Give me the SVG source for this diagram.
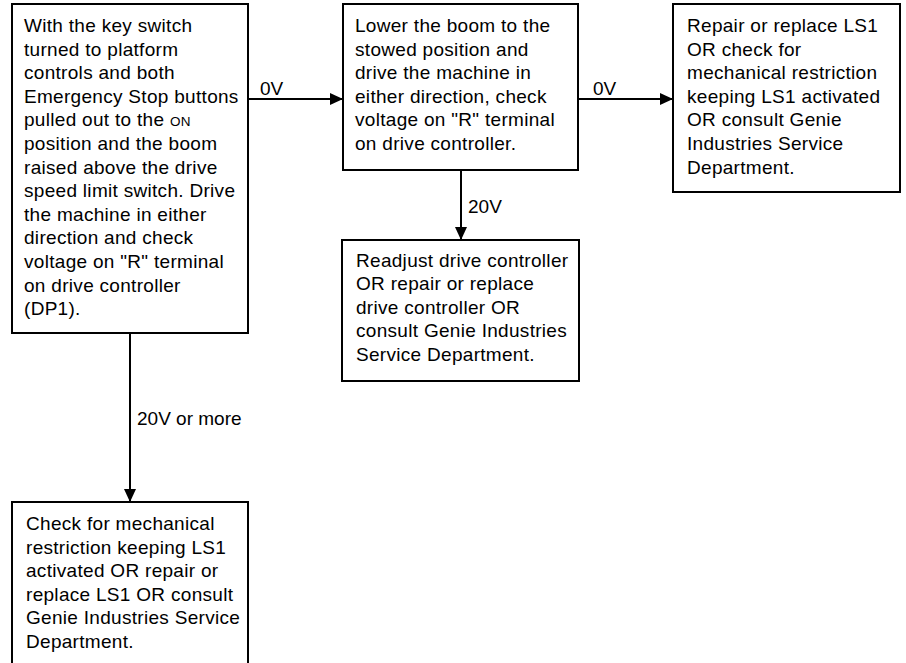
<svg xmlns="http://www.w3.org/2000/svg" width="906" height="663" viewBox="0 0 906 663">
<style>
.box{fill:#fff;stroke:#000;stroke-width:2}
.t{font-family:"Liberation Sans",Arial,sans-serif;font-size:19px;letter-spacing:0.3px;fill:#000}
.lbl{font-family:"Liberation Sans",Arial,sans-serif;font-size:19px;fill:#000}
.c{stroke:#000;stroke-width:2;fill:none}
.sc{font-size:13.5px}
</style>
<defs>
<marker id="ah" viewBox="0 0 13 12" refX="13" refY="6" markerWidth="13" markerHeight="12" markerUnits="userSpaceOnUse" orient="auto">
<path d="M0,0 L13,6 L0,12 Z" fill="#000"/>
</marker>
</defs>
<rect width="906" height="663" fill="#fff"/>
<g id="connectors">
<line class="c" x1="248" y1="99" x2="343" y2="99" marker-end="url(#ah)"/>
<line class="c" x1="578" y1="99" x2="673" y2="99" marker-end="url(#ah)"/>
<line class="c" x1="461" y1="170" x2="461" y2="240" marker-end="url(#ah)"/>
<line class="c" x1="130" y1="333" x2="130" y2="502" marker-end="url(#ah)"/>
<text class="lbl" x="260" y="95">0V</text>
<text class="lbl" x="593" y="95">0V</text>
<text class="lbl" x="468" y="213">20V</text>
<text class="lbl" x="137" y="425">20V or more</text>
</g>
<g id="n1">
<rect class="box" x="12" y="4" width="236" height="329"/>
<text class="t">
<tspan x="24" y="32">With the key switch</tspan>
<tspan x="24" dy="23.6">turned to platform</tspan>
<tspan x="24" dy="23.6">controls and both</tspan>
<tspan x="24" dy="23.6">Emergency Stop buttons</tspan>
<tspan x="24" dy="23.6">pulled out to the <tspan class="sc">ON</tspan></tspan>
<tspan x="24" dy="23.6">position and the boom</tspan>
<tspan x="24" dy="23.6">raised above the drive</tspan>
<tspan x="24" dy="23.6">speed limit switch. Drive</tspan>
<tspan x="24" dy="23.6">the machine in either</tspan>
<tspan x="24" dy="23.6">direction and check</tspan>
<tspan x="24" dy="23.6">voltage on "R" terminal</tspan>
<tspan x="24" dy="23.6">on drive controller</tspan>
<tspan x="24" dy="23.6">(DP1).</tspan>
</text>
</g>
<g id="n2">
<rect class="box" x="343" y="4" width="235" height="166"/>
<text class="t">
<tspan x="355" y="32">Lower the boom to the</tspan>
<tspan x="355" dy="23.6">stowed position and</tspan>
<tspan x="355" dy="23.6">drive the machine in</tspan>
<tspan x="355" dy="23.6">either direction, check</tspan>
<tspan x="355" dy="23.6">voltage on "R" terminal</tspan>
<tspan x="355" dy="23.6">on drive controller.</tspan>
</text>
</g>
<g id="n3">
<rect class="box" x="673" y="4" width="227" height="188"/>
<text class="t">
<tspan x="687" y="32">Repair or replace LS1</tspan>
<tspan x="687" dy="23.6">OR check for</tspan>
<tspan x="687" dy="23.6">mechanical restriction</tspan>
<tspan x="687" dy="23.6">keeping LS1 activated</tspan>
<tspan x="687" dy="23.6">OR consult Genie</tspan>
<tspan x="687" dy="23.6">Industries Service</tspan>
<tspan x="687" dy="23.6">Department.</tspan>
</text>
</g>
<g id="n4">
<rect class="box" x="342" y="240" width="237" height="141"/>
<text class="t">
<tspan x="356" y="267">Readjust drive controller</tspan>
<tspan x="356" dy="23.4">OR repair or replace</tspan>
<tspan x="356" dy="23.4">drive controller OR</tspan>
<tspan x="356" dy="23.4">consult Genie Industries</tspan>
<tspan x="356" dy="23.4">Service Department.</tspan>
</text>
</g>
<g id="n5">
<rect class="box" x="12" y="502" width="236" height="180"/>
<text class="t">
<tspan x="26" y="530">Check for mechanical</tspan>
<tspan x="26" dy="23.6">restriction keeping LS1</tspan>
<tspan x="26" dy="23.6">activated OR repair or</tspan>
<tspan x="26" dy="23.6">replace LS1 OR consult</tspan>
<tspan x="26" dy="23.6">Genie Industries Service</tspan>
<tspan x="26" dy="23.6">Department.</tspan>
</text>
</g>
</svg>
